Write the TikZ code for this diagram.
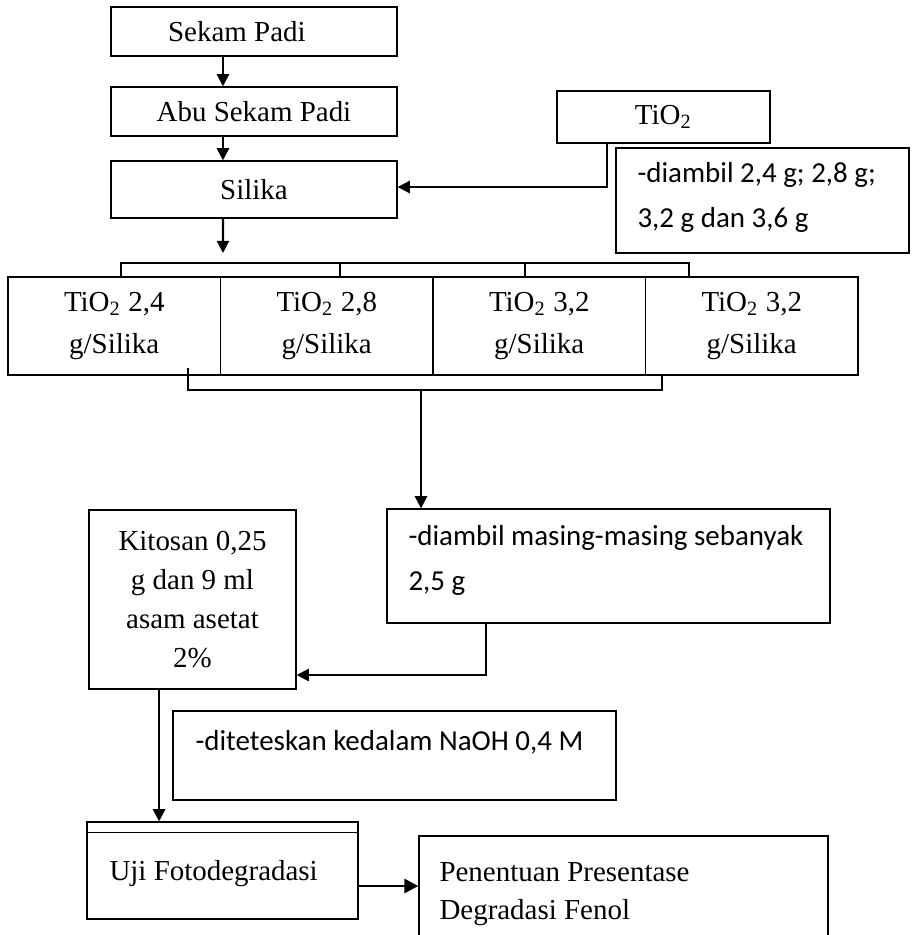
\documentclass[tikz,border=0pt]{standalone}
\usepackage{fontspec}
\setmainfont{Liberation Serif}
\newfontfamily\calibri{Carlito}
\usepackage{tikz}
\usetikzlibrary{arrows.meta}
\newcommand{\pxl}{0.38pt}
\tikzset{
  box/.style={draw, line width=0.5pt, inner sep=0pt, align=center, font=\fontsize{11}{14.8}\selectfont},
  notetext/.style={inner sep=0pt, align=left, font=\calibri\fontsize{11}{17.1}\selectfont},
  flow/.style={line width=0.8pt, -{Triangle[length=4.6pt,width=4.6pt]}},
  link/.style={line width=0.75pt}
}

\begin{document}
\begin{tikzpicture}[x=0.38pt, y=-0.38pt]
  \useasboundingbox (0,0) rectangle (915,935);
  \clip (0,0) rectangle (915,935);

  % Rice husk to silica
  \node[box, minimum width=286*\pxl, minimum height=49*\pxl] (sekam) at (254,31.5) {Sekam Padi\kern13pt};
  \node[box, minimum width=286*\pxl, minimum height=49*\pxl] (abu) at (254,111.5) {Abu Sekam Padi};
  \node[box, minimum width=286*\pxl, minimum height=57*\pxl] (silika) at (254,189.5) {Silika};

  % TiO2 input
  \node[box, minimum width=213*\pxl, minimum height=52*\pxl] (tio) at (663.5,117) {TiO\textsubscript{2}};
  \node[box, minimum width=293*\pxl, minimum height=105*\pxl] (takeA) at (762.5,200.5) {};
  \node[notetext, anchor=west] (takeAtext) at (637,197.5) {-diambil 2,4 g; 2,8 g;\\3,2 g dan 3,6 g};

  % Composites
  \node[box, minimum width=212.5*\pxl, minimum height=98*\pxl, font=\fontsize{11}{16.3}\selectfont] (c1) at (114.25,326) {TiO\textsubscript{2} 2,4\\g/Silika};
  \node[box, minimum width=212.5*\pxl, minimum height=98*\pxl, font=\fontsize{11}{16.3}\selectfont] (c2) at (326.75,326) {TiO\textsubscript{2} 2,8\\g/Silika};
  \node[box, minimum width=212.5*\pxl, minimum height=98*\pxl, font=\fontsize{11}{16.3}\selectfont] (c3) at (539.25,326) {TiO\textsubscript{2} 3,2\\g/Silika};
  \node[box, minimum width=212.5*\pxl, minimum height=98*\pxl, font=\fontsize{11}{16.3}\selectfont] (c4) at (751.75,326) {TiO\textsubscript{2} 3,2\\g/Silika};

  % Chitosan step
  \node[box, minimum width=207*\pxl, minimum height=179*\pxl] (kitosan) at (192.5,599.5) {Kitosan 0,25\\g dan 9 ml\\asam asetat\\2\%};
  \node[box, minimum width=443*\pxl, minimum height=114*\pxl] (takeB) at (608.5,566) {};
  \node[notetext, anchor=west] (takeBtext) at (408,560) {-diambil masing-masing sebanyak\\2,5 g};
  \node[box, minimum width=443*\pxl, minimum height=89*\pxl] (drop) at (394.5,755.5) {};
  \node[notetext, anchor=west] (droptext) at (195,742) {-diteteskan kedalam NaOH 0,4 M};

  % Test and result
  \node[box, minimum width=271*\pxl, minimum height=97*\pxl] (uji) at (222.5,870.5) {};
  \draw[line width=0.5pt] ([yshift=-4.2pt]uji.north west) -- ([yshift=-4.2pt]uji.north east);
  \node[anchor=west, inner sep=0pt, font=\fontsize{11}{14}\selectfont] (ujitext) at (109,874) {Uji Fotodegradasi};
  \node[box, minimum width=409*\pxl, minimum height=124*\pxl] (pen) at (623.5,898) {};
  \node[anchor=west, inner sep=0pt, align=left, font=\fontsize{11}{14.4}\selectfont] (pentext) at (439,894) {Penentuan Presentase\\Degradasi Fenol};

  % Arrows
  \draw[flow] ([xshift=-11.8pt]sekam.south) -- ([xshift=-11.8pt]abu.north);
  \draw[flow] ([xshift=-11.8pt]abu.south) -- ([xshift=-11.8pt]silika.north);
  \coordinate (split) at (223,253);
  \draw[flow] ([xshift=-11.8pt]silika.south) -- (split);
  \coordinate (tout) at ([xshift=-21.5pt]tio.south);
  \coordinate (sin) at ([yshift=0.95pt]silika.east);
  \draw[flow] (tout) |- (sin);

  % Brackets
  \coordinate (topbar) at (0,263);
  \coordinate (d1) at ([xshift=2.6pt]c1.north);
  \coordinate (d2) at ([xshift=5pt]c2.north);
  \coordinate (d3) at ([xshift=-5.4pt]c3.north);
  \coordinate (d4) at ([xshift=-23.8pt]c4.north);
  \draw[link] (d1) |- (topbar -| d4) -- (d4);
  \draw[link] (d2) -- (d2 |- topbar);
  \draw[link] (d3) -- (d3 |- topbar);
  \coordinate (b1) at ([xshift=28pt,yshift=3pt]c1.south);
  \coordinate (b4) at ([xshift=-34.1pt]c4.south);
  \coordinate (merge) at (421,390);
  \draw[link] (b1) |- (merge) -| (b4);
  \draw[flow] (merge) -- (merge |- takeB.north);

  \coordinate (bout) at ([xshift=-46.6pt]takeB.south);
  \coordinate (kin) at ([yshift=-28.7pt]kitosan.east);
  \draw[flow] (bout) |- (kin);
  \coordinate (kout) at ([xshift=-12.7pt]kitosan.south);
  \draw[flow] (kout) -- (kout |- uji.north);
  \coordinate (uout) at ([yshift=-5.9pt]uji.east);
  \draw[line width=1.1pt, -{Triangle[length=5.3pt,width=5.3pt]}] (uout) -- (uout -| pen.west);
\end{tikzpicture}
\end{document}
